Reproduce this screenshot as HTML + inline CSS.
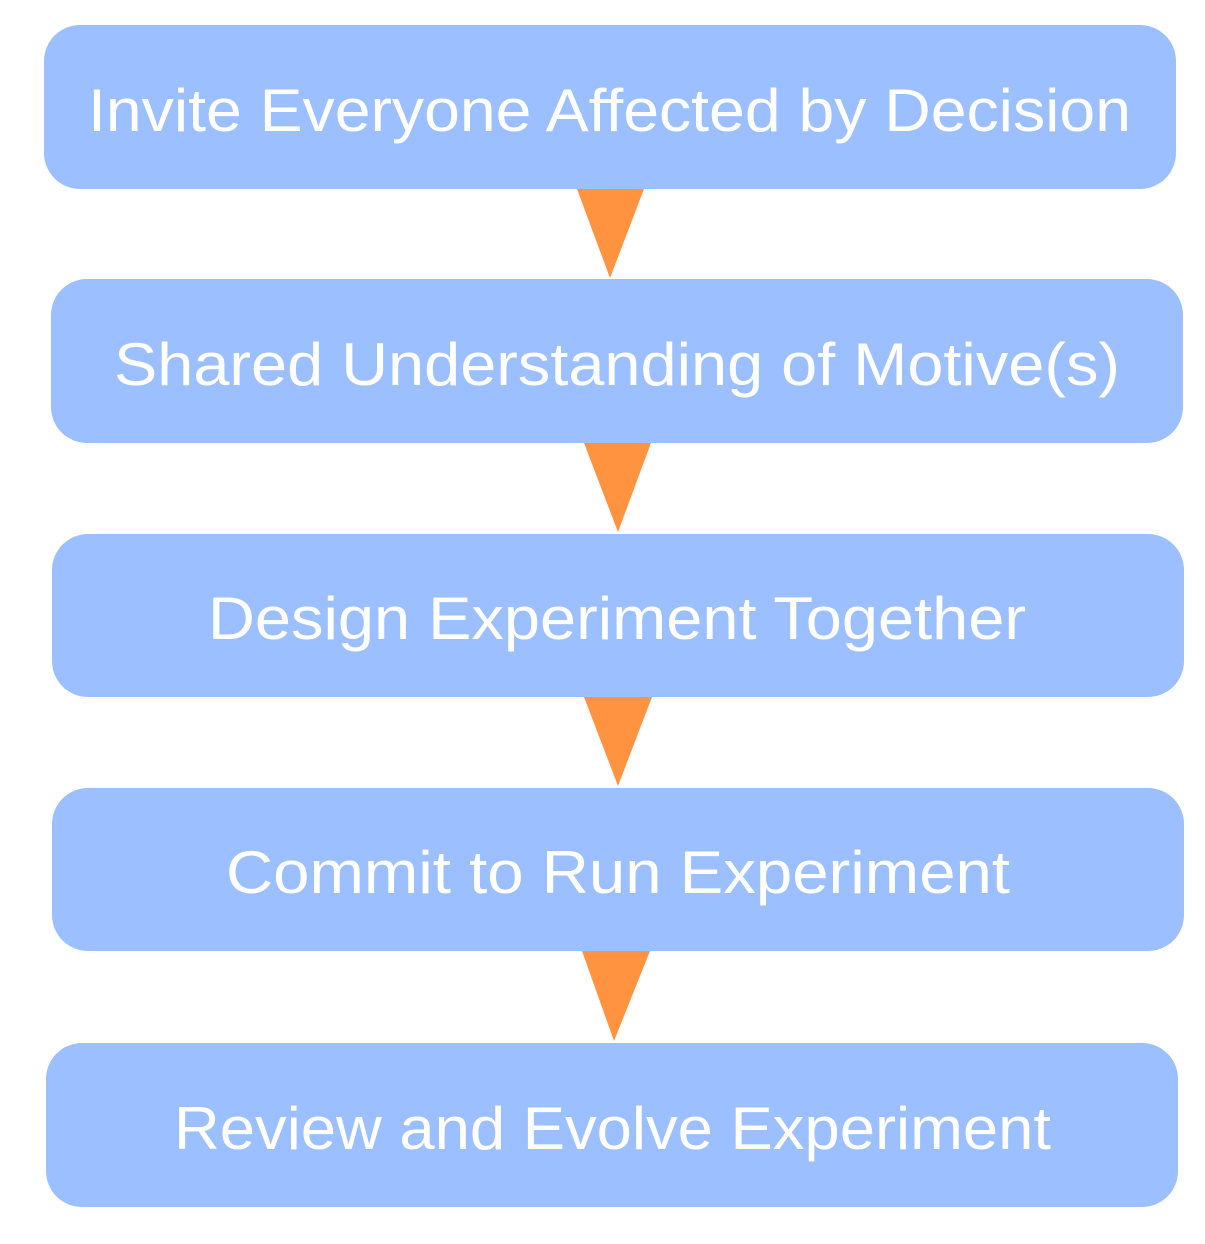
<!DOCTYPE html>
<html><head><meta charset="utf-8"><style>
html,body{margin:0;padding:0;background:#fff;}
svg{display:block;}
text{font-family:"Liberation Sans","DejaVu Sans",sans-serif;font-size:60px;fill:#fff;}
</style></head><body>
<svg width="1205" height="1244" viewBox="0 0 1205 1244" xmlns="http://www.w3.org/2000/svg">
<g fill="#9bbfff">
<rect x="44" y="25" width="1132" height="164" rx="36"/>
<rect x="51" y="279" width="1132" height="164" rx="36"/>
<rect x="52" y="534" width="1132" height="163" rx="36"/>
<rect x="52" y="788" width="1132" height="163" rx="36"/>
<rect x="46" y="1043" width="1132" height="164" rx="36"/>
</g>
<g fill="#ff9340">
<polygon points="577,189 644,189 610,278"/>
<polygon points="584,443 651,443 618,532"/>
<polygon points="584,697 652,697 618,786"/>
<polygon points="582,951 650,951 614,1041"/>
</g>
<text x="88" y="131" textLength="1043" lengthAdjust="spacingAndGlyphs">Invite Everyone Affected by Decision</text>
<text x="114" y="385" textLength="1006" lengthAdjust="spacingAndGlyphs">Shared Understanding of Motive(s)</text>
<text x="208" y="639" textLength="818" lengthAdjust="spacingAndGlyphs">Design Experiment Together</text>
<text x="226" y="893" textLength="784" lengthAdjust="spacingAndGlyphs">Commit to Run Experiment</text>
<text x="174" y="1149" textLength="877" lengthAdjust="spacingAndGlyphs">Review and Evolve Experiment</text>
</svg>
</body></html>
